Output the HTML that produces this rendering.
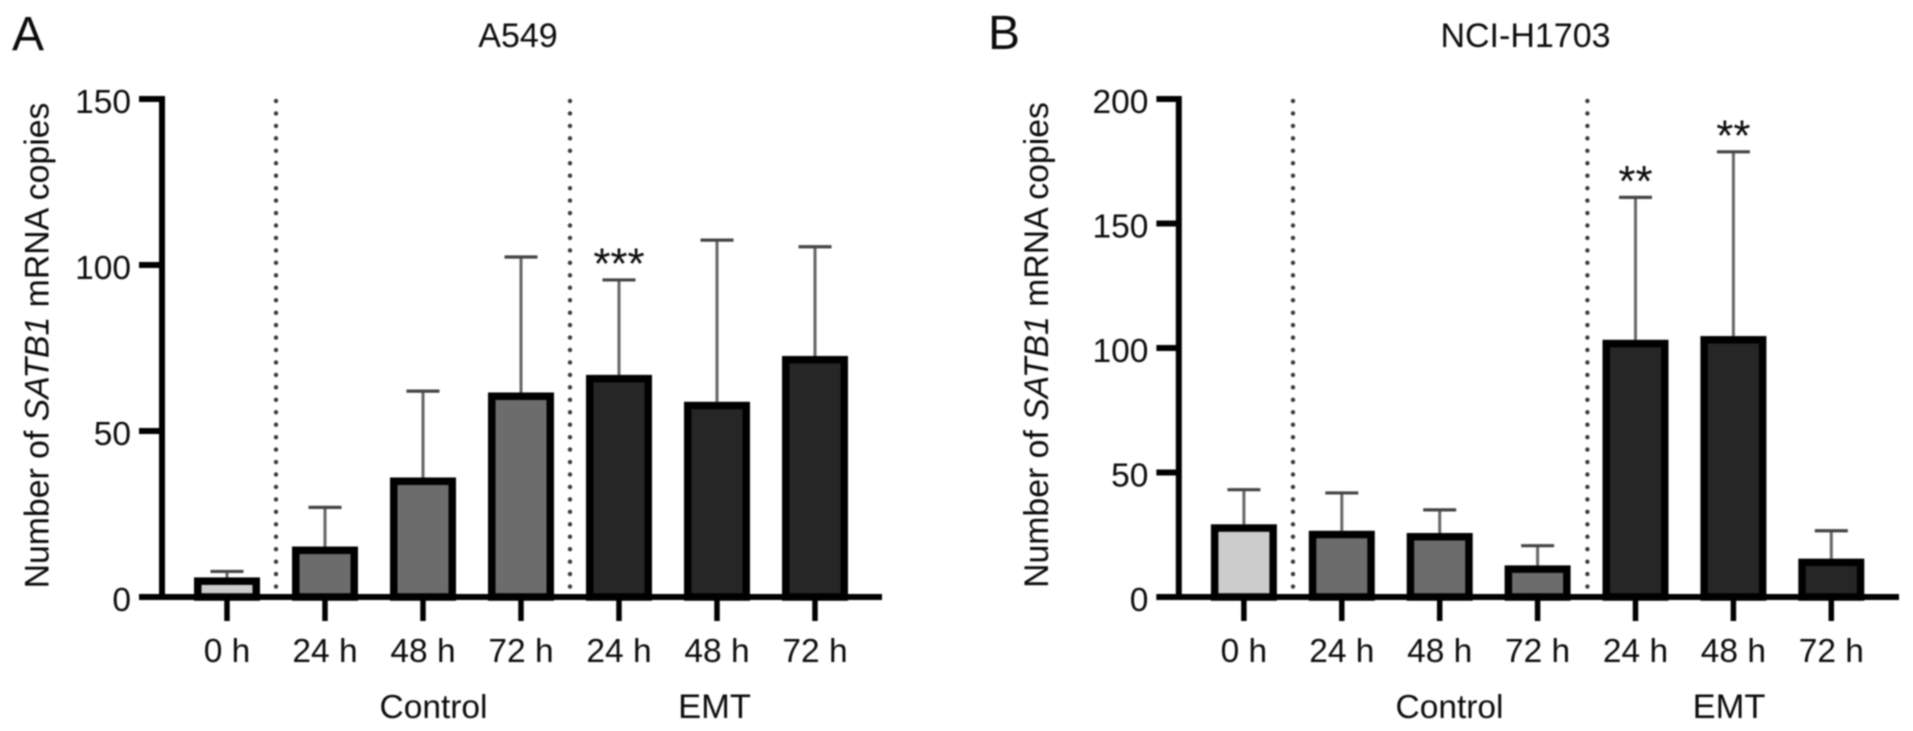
<!DOCTYPE html>
<html lang="en">
<head>
<meta charset="utf-8">
<title>SATB1 mRNA copies in A549 and NCI-H1703</title>
<style>
  html, body { margin: 0; padding: 0; background: #fff; width: 1913px; height: 731px; overflow: hidden; }
  svg { display: block; filter: blur(0.8px); }
  text { font-family: "Liberation Sans", sans-serif; fill: #0c0c0c; }
</style>
</head>
<body>
<svg id="figure" xmlns="http://www.w3.org/2000/svg" width="1913" height="731" viewBox="0 0 1913 731">
  <rect x="0" y="0" width="1913" height="731" fill="#ffffff"></rect>

  <text x="12" y="50" font-size="48">A</text>
  <text x="518" y="47" font-size="34" text-anchor="middle">A549</text>
  <text transform="translate(48.5,345.5) rotate(-90)" font-size="33.8" text-anchor="middle">Number of <tspan font-style="italic">SATB1</tspan> mRNA copies</text>
  <text x="433.5" y="718" font-size="33.5" text-anchor="middle">Control</text>
  <text x="714.5" y="718" font-size="34.5" text-anchor="middle">EMT</text>

  <text x="988" y="49" font-size="48">B</text>
  <text x="1525.5" y="47" font-size="34" text-anchor="middle">NCI-H1703</text>
  <text transform="translate(1048,345) rotate(-90)" font-size="33.8" text-anchor="middle">Number of <tspan font-style="italic">SATB1</tspan> mRNA copies</text>
  <text x="1449.5" y="718" font-size="33.5" text-anchor="middle">Control</text>
  <text x="1729" y="718" font-size="34.5" text-anchor="middle">EMT</text>

  <g id="panel-a"></g>
  <g id="panel-b"></g>
</svg>

<script>
// Shared categories
const categories = ['0 h', '24 h', '48 h', '72 h', '24 h', '48 h', '72 h'];
const groups = ['baseline', 'control', 'control', 'control', 'emt', 'emt', 'emt'];

// Panel A: A549
const aMeans = [5.9, 15.2, 36, 61.6, 66.9, 58.8, 72.6];
const aErrors = [7.7, 27, 62, 102.4, 95.5, 107.5, 105.5];
const aStars = ['', '', '', '', '***', '', ''];
const aTicks = [0, 50, 100, 150];

// Panel B: NCI-H1703
const bMeans = [29.2, 26.6, 25.7, 12.7, 103.3, 104.8, 15.4];
const bErrors = [43.1, 41.8, 35, 20.6, 160.5, 178.8, 26.6];
const bStars = ['', '', '', '', '**', '**', ''];
const bTicks = [0, 50, 100, 150, 200];

const NS = 'http://www.w3.org/2000/svg';
const fills = { baseline: '#cccccc', control: '#6c6c6c', emt: '#262626' };
const yTop = 99;
const yBase = 597;

function make(parent, tag, attrs) {
  const el = document.createElementNS(NS, tag);
  for (const k in attrs) el.setAttribute(k, attrs[k]);
  parent.appendChild(el);
  return el;
}

function drawPanel(root, prefix, means, errors, stars, ticks, axisX, axisLeft, axisRight, firstX, stepX, divA, divB, starOffset) {
  const maxTick = ticks[ticks.length - 1];
  const y = v => yBase - (v / maxTick) * (yBase - yTop);
  const x = i => firstX + i * stepX;
  const barW = 66, sw = 7.5;

  // dotted dividers
  [divA, divB].forEach(function (dx) {
    const line = make(root, 'line', { x1: dx, x2: dx, y1: yTop + 2, y2: yBase - 10, stroke: '#3a3a3a', 'stroke-width': 4.4, 'stroke-linecap': 'round', 'stroke-dasharray': '0 12.45' });
    
    
  });

  // error bars (behind bars)
  means.forEach(function (m, i) {
    const stem = make(root, 'line', { x1: x(i), x2: x(i), y1: y(m), y2: y(errors[i]), stroke: '#666666', 'stroke-width': 3 });
    
    
    const cap = make(root, 'line', { x1: x(i) - 16.5, x2: x(i) + 16.5, y1: y(errors[i]), y2: y(errors[i]), stroke: '#444444', 'stroke-width': 3.2 });
    
    
  });

  // bars
  means.forEach(function (m, i) {
    const bar = make(root, 'rect', { x: x(i) - barW / 2 + sw / 2, y: y(m) + sw / 2, width: barW - sw, height: Math.max(yBase - y(m) - sw / 2, 0), fill: fills[groups[i]], stroke: '#000000', 'stroke-width': sw });
    
    
  });

  // significance stars
  stars.forEach(function (s, i) {
    if (!s) return;
    const t = make(root, 'text', { x: x(i), y: y(errors[i]) - starOffset, 'font-size': 44, 'text-anchor': 'middle' });
    t.textContent = s;
    
    
  });

  // axes
  const yAxis = make(root, 'line', { x1: axisX, x2: axisX, y1: yTop - 3, y2: yBase + 3, stroke: '#000000', 'stroke-width': 6 });
  
  
  const xAxis = make(root, 'line', { x1: axisLeft, x2: axisRight, y1: yBase, y2: yBase, stroke: '#000000', 'stroke-width': 6 });
  
  

  // y ticks and labels
  ticks.forEach(function (v) {
    const tick = make(root, 'line', { x1: axisLeft, x2: axisX, y1: y(v), y2: y(v), stroke: '#000000', 'stroke-width': 6 });
    
    
    const label = make(root, 'text', { x: axisLeft - 8, y: y(v) + 14, 'font-size': 33.5, 'text-anchor': 'end' });
    label.textContent = v;
    
    
  });

  // x ticks and labels
  categories.forEach(function (c, i) {
    const tick = make(root, 'line', { x1: x(i), x2: x(i), y1: yBase, y2: yBase + 24, stroke: '#000000', 'stroke-width': 5.5 });
    
    
    const label = make(root, 'text', { x: x(i), y: 662, 'font-size': 33.5, 'text-anchor': 'middle' });
    label.textContent = c;
    
    
  });
}

drawPanel(document.getElementById('panel-a'), 'panel-a', aMeans, aErrors, aStars, aTicks, 162, 139, 882, 227, 98, 276, 570, 1.5);
drawPanel(document.getElementById('panel-b'), 'panel-b', bMeans, bErrors, bStars, bTicks, 1178.8, 1156.4, 1899, 1243.9, 97.9, 1293, 1587.4, 1.5);
</script>
</body>
</html>
